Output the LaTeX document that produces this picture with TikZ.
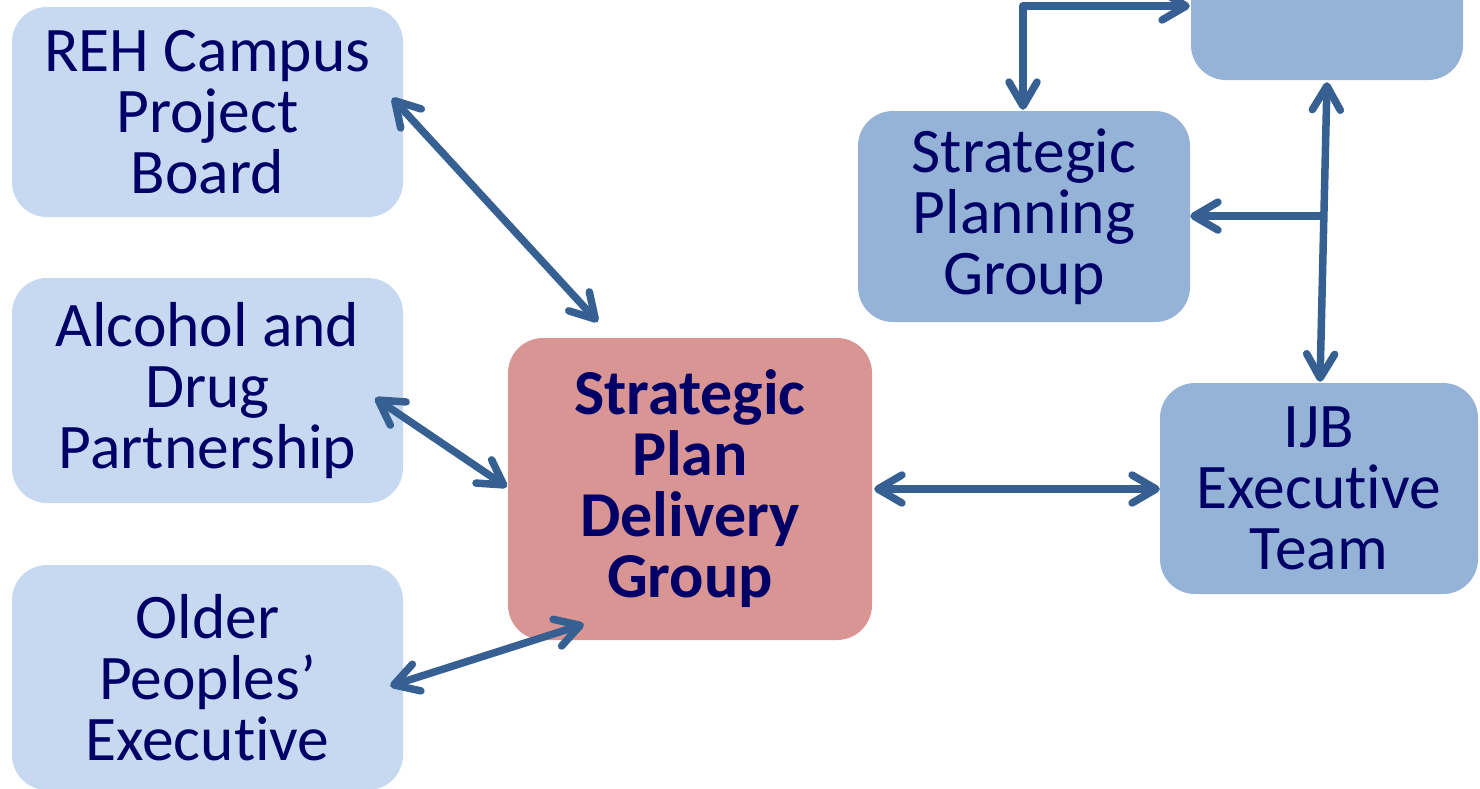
\documentclass[tikz,border=0pt]{standalone}
\usepackage{fontspec}
\setmainfont{Carlito}[Ligatures=NoCommon]
\usetikzlibrary{arrows.meta,calc}
\definecolor{lightbox}{HTML}{C6D9F1}
\definecolor{midbox}{HTML}{95B3D7}
\definecolor{pinkbox}{HTML}{D99594}
\definecolor{arrowblue}{HTML}{376092}
\definecolor{navytext}{RGB}{0,0,102}
\tikzset{
  box/.style={rounded corners=35pt, inner sep=0pt, align=center, text=navytext,
    font=\fontsize{63.5}{61}\selectfont},
  light/.style={box, fill=lightbox},
  mid/.style={box, fill=midbox},
  pink/.style={box, fill=pinkbox, font=\fontsize{64}{61}\selectfont\bfseries},
  conn/.style={draw=arrowblue, line width=7.5pt, line cap=round, line join=round,
    arrows={Straight Barb[length=24pt,width=28pt,line cap=round,line join=round]-Straight Barb[length=24pt,width=28pt,line cap=round,line join=round]}},
  oneway/.style={draw=arrowblue, line width=7.5pt, line cap=round, line join=round,
    arrows={-Straight Barb[length=24pt,width=28pt,line cap=round,line join=round]}}
}
\begin{document}
\begin{tikzpicture}[x=1pt,y=-1pt]
\useasboundingbox (0,0) rectangle (1480,788);
\clip (0,0) rectangle (1480,788);
\node[light, minimum width=391pt, minimum height=210pt] (reh) at (207.5,112) {REH Campus\\Project\\Board};
\node[light, minimum width=391pt, minimum height=225pt] (adp) at (207.5,390.5) {Alcohol and\\Drug\\Partnership};
\node[light, minimum width=391pt, minimum height=225pt] (ope) at (207.5,677.5) {Older\\Peoples’\\Executive};
\node[pink, minimum width=364pt, minimum height=302pt] (spdg) at (690,489) {Strategic\\Plan\\Delivery\\Group};
\node[mid, minimum width=332pt, minimum height=211pt] (spg) at (1024,216.5) {Strategic\\Planning\\Group};
\node[mid, minimum width=318pt, minimum height=211pt] (ijb) at (1319,488.5) {IJB\\Executive\\Team};
\node[mid, minimum width=272pt, minimum height=210pt] (top) at (1327,-25) {};
% connectors
\draw[conn] ($(reh.east)+(-11,-14)$) -- ($(spdg.north west)+(90,-16)$);
\draw[conn] ($(adp.east)+(-28,7.5)$) -- ($(spdg.west)+(-1,-2)$);
\draw[conn] ($(ope.east)+(-13,8.5)$) -- ($(spdg.south west)+(76,-16)$);
\draw[conn] ($(spdg.east)+(2,0)$) -- (spdg.east -| ijb.west);
\draw[conn] ($(spg.north)+(-1,-1)$) |- ($(top.west)+(-1,31)$);
\draw[conn] ($(top.south)+(0,2)$) -- ($(ijb.north)+(1,-1)$);
\coordinate (j) at ($(top.south)!0.449!(ijb.north)$);
\draw[oneway] (j) -- (j -| spg.east);
\end{tikzpicture}
\end{document}
